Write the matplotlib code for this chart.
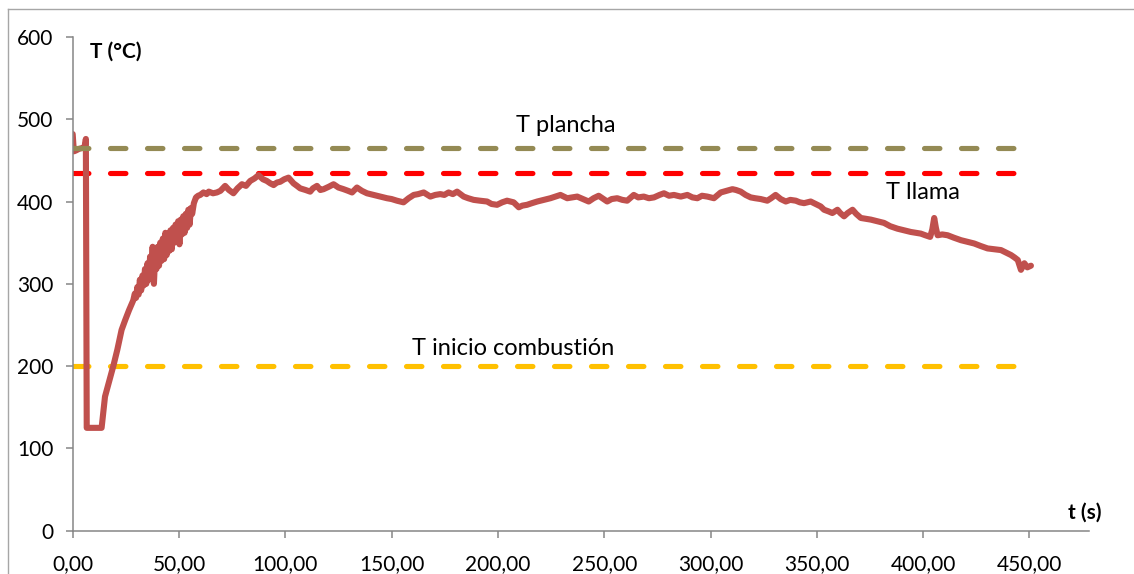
import matplotlib
matplotlib.use("Agg")
import matplotlib.pyplot as plt
from matplotlib.lines import Line2D

plt.rcParams['font.family'] = ['Lato', 'DejaVu Sans']

# flame temperature readings (s, degC)
t_llama = [0, 0.3, 0.6, 1.5, 3.0, 4.5, 5.5, 6.0, 6.2, 6.4, 6.6, 10.0, 13.6,
           15.2, 17.0, 19.1, 21.0, 23.0, 24.7, 26.5, 28.5,
           29.2, 29.8, 30.4, 31.0, 31.6, 32.2, 32.8, 33.4, 34.0, 34.6, 35.2,
           35.8, 36.4, 37.0, 37.6, 38.2, 38.8, 39.4, 40.0, 40.6, 41.2, 41.8,
           42.4, 43.0, 43.6, 44.2, 44.8, 45.4, 46.0, 46.6, 47.2, 47.8, 48.4,
           49.0, 49.6, 50.2, 50.8, 51.4, 52.0, 52.6, 53.2, 53.8, 54.4, 55.0,
           55.6, 56.2, 57.0, 58.0, 59.0, 60.0, 61.5, 63.0, 64.0, 66.0, 67.8,
           69.5, 71.7, 73.5, 75.6, 77.5, 79.6, 81.5, 83.5, 85.5, 87.4, 89.5,
           91.3, 93.0, 94.5, 96.0, 97.6, 99.5, 101.5, 103.9, 105.5, 107.0,
           109.5, 111.7, 113.0, 114.9, 116.5, 118.0, 120.5, 122.7, 125.0,
           127.4, 129.5, 131.4, 133.7, 136.0, 138.4, 141.5, 144.5, 147.8,
           150.0, 152.5, 155.6, 158.0, 160.4, 162.5, 165.1, 168.2, 170.5,
           172.9, 174.8, 176.8, 178.8, 180.8, 183.9, 186.0, 188.6, 191.5,
           194.9, 197.0, 199.6, 202.0, 204.3, 207.4, 209.8, 211.5, 213.7,
           216.0, 218.5, 221.5, 224.7, 227.0, 229.4, 232.6, 235.0, 237.3,
           240.0, 242.7, 245.0, 247.4, 251.4, 253.5, 256.1, 258.5, 260.8,
           263.9, 266.0, 268.6, 271.0, 273.4, 276.0, 278.1, 280.5, 282.8,
           286.0, 289.1, 291.5, 293.8, 296.0, 298.5, 301.6, 304.8, 307.5,
           310.3, 312.0, 314.2, 316.5, 318.9, 321.0, 323.6, 326.7, 328.5,
           330.6, 333.0, 335.4, 337.5, 340.1, 342.0, 344.0, 347.1, 349.5,
           351.8, 353.4, 355.5, 357.3, 359.7, 361.0, 362.8, 364.5, 366.8,
           368.5, 370.7, 373.0, 375.4, 378.5, 381.6, 384.5, 387.9, 391.0,
           394.2, 396.5, 398.9, 401.0, 403.3, 404.3, 405.2, 406.0, 406.8,
           409.0, 411.5, 414.5, 417.8, 421.0, 424.0, 427.0, 430.3, 433.5,
           436.6, 439.0, 441.3, 443.0, 444.5, 446.0, 447.6, 449.0, 450.7]
T_llama = [482, 470, 461, 462, 464, 465, 466, 472, 476, 300, 125, 125, 125,
           163, 180, 200, 220, 244, 256, 268, 280,
           288, 283, 296, 287, 305, 292, 310, 298, 318, 300, 325,
           305, 333, 312, 345, 300, 335, 318, 345, 322, 350, 328,
           355, 330, 362, 335, 358, 340, 365, 342, 368, 350, 372,
           352, 376, 348, 378, 360, 382, 362, 385, 368, 390, 372,
           392, 385, 398, 405, 407, 408, 411, 409, 412, 410, 411,
           413, 419, 414, 410, 416, 421, 419, 425, 428, 432, 427,
           425, 422, 420, 423, 424, 427, 429, 422, 419, 416,
           414, 412, 416, 419, 414, 415, 418, 421, 417,
           415, 413, 411, 417, 413, 410, 408, 406, 404,
           403, 401, 399, 404, 408, 409, 411, 406, 408,
           409, 408, 411, 409, 412, 406, 404, 402, 401,
           400, 397, 396, 399, 401, 399, 393, 395, 396,
           398, 400, 402, 404, 406, 408, 404, 405, 406,
           403, 400, 404, 407, 400, 403, 404, 402, 401,
           408, 405, 406, 404, 405, 408, 410, 407, 408,
           406, 408, 405, 404, 407, 406, 404, 411, 413,
           415, 414, 412, 408, 405, 404, 403, 401, 404,
           408, 403, 400, 402, 401, 399, 398, 400, 397,
           394, 390, 388, 386, 390, 386, 382, 386, 390,
           385, 380, 379, 378, 376, 374, 370, 367, 365,
           363, 362, 361, 359, 357, 366, 380, 368, 359,
           360, 359, 356, 353, 351, 349, 346, 343, 342,
           341, 338, 335, 332, 329, 317, 325, 320, 322]

# reference temperatures
t_ref = [0, 447]
T_plancha = [465, 465]
T_llama_ref = [435, 435]
T_inicio = [200, 200]

xticks = [0, 50, 100, 150, 200, 250, 300, 350, 400, 450]
xlabels = ['0,00', '50,00', '100,00', '150,00', '200,00', '250,00',
           '300,00', '350,00', '400,00', '450,00']
yticks = [0, 100, 200, 300, 400, 500, 600]

fig = plt.figure(figsize=(11.34, 5.74), dpi=100)
ax = fig.add_axes([0.0641, 0.0754, 0.8962, 0.8603])

dash = (3.0, 4.2)
ax.plot(t_ref, T_inicio, color='#FFC000', lw=3.7, dashes=dash,
        dash_capstyle='round')
ax.plot(t_ref, T_llama_ref, color='#FF0000', lw=3.7, dashes=dash,
        dash_capstyle='round')
ax.plot(t_llama, T_llama, color='#C0504D', lw=4.4, solid_joinstyle='round',
        solid_capstyle='round')
ax.plot(t_ref, T_plancha, color='#948A54', lw=3.7, dashes=dash,
        dash_capstyle='round')

ax.set_xlim(0, 478)
ax.set_ylim(0, 600)
ax.set_xticks(xticks)
ax.set_xticklabels(xlabels)
ax.set_yticks(yticks)

for s in ['top', 'right']:
    ax.spines[s].set_visible(False)
for s in ['left', 'bottom']:
    ax.spines[s].set_color('#868686')
    ax.spines[s].set_linewidth(1.1)
ax.tick_params(axis='both', direction='out', color='#868686', length=5,
               width=1.1, labelsize=15, labelcolor='black')
ax.tick_params(axis='y', pad=9)
ax.tick_params(axis='x', pad=12)

ax.text(232, 492, 'T plancha', fontsize=17, ha='center', va='center')
ax.text(400, 411, 'T llama', fontsize=17, ha='center', va='center')
ax.text(207, 222, 'T inicio combustión', fontsize=17, ha='center',
        va='center')
ax.text(8, 582, 'T (°C)', fontsize=15, fontweight='bold', ha='left',
        va='center')
ax.text(484, 21.5, 't (s)', fontsize=15, fontweight='bold', ha='right',
        va='center', clip_on=False)

# outer chart frame (left and top edges only visible)
fig.add_artist(Line2D([8 / 1134, 8 / 1134], [0, 1 - 9 / 574],
                      color='#A6A6A6', lw=1.0))
fig.add_artist(Line2D([8 / 1134, 1], [1 - 9 / 574, 1 - 9 / 574],
                      color='#A6A6A6', lw=1.0))

fig.savefig('out.png', dpi=100)
